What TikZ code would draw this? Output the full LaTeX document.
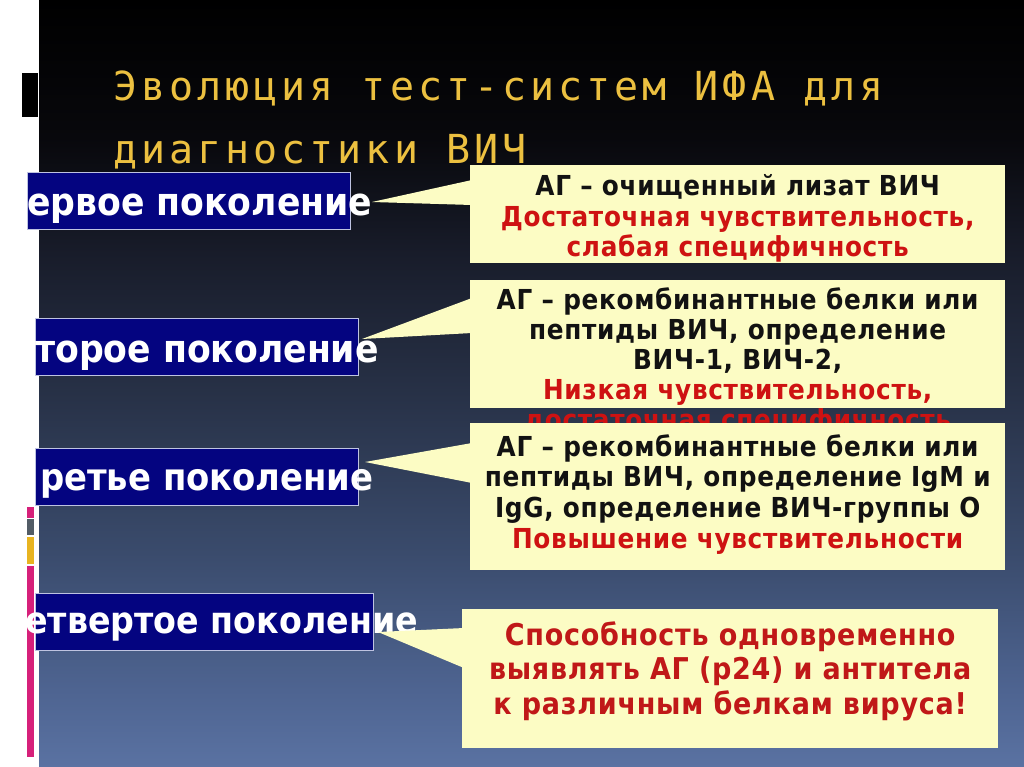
\documentclass[tikz,border=0pt]{standalone}
\usepackage{fontspec}
\setmainfont{DejaVu Sans}
\newfontfamily\titlefont[LetterSpace=10]{DejaVu Sans Mono}
\newfontfamily\condb{DejaVu Sans Condensed Bold}
\newfontfamily\condbs[LetterSpace=2.5]{DejaVu Sans Condensed Bold}
\usetikzlibrary{calc}
\definecolor{titlegold}{RGB}{236,192,64}
\definecolor{navy}{RGB}{4,4,128}
\definecolor{labline}{RGB}{190,195,225}
\definecolor{callfill}{RGB}{252,252,196}
\definecolor{redtxt}{RGB}{206,18,18}
\definecolor{redtxtd}{RGB}{192,24,24}
\definecolor{blacktxt}{RGB}{18,18,18}
\definecolor{magbar}{RGB}{214,32,122}
\definecolor{graybar}{RGB}{82,92,102}
\definecolor{goldbar}{RGB}{232,180,32}
\definecolor{bg0}{RGB}{90,114,162}
\definecolor{bg1}{RGB}{78,100,145}
\definecolor{bg2}{RGB}{58,75,108}
\definecolor{bg3}{RGB}{40,50,72}
\definecolor{bg4}{RGB}{24,28,42}
\definecolor{bg5}{RGB}{8,8,12}
\pgfdeclareverticalshading{slidebg}{100bp}{color(0bp)=(bg0); color(25bp)=(bg0); color(30bp)=(bg1); color(39bp)=(bg2); color(49bp)=(bg3); color(58.5bp)=(bg4); color(66bp)=(bg5); color(75bp)=(black); color(100bp)=(black)}
\tikzset{
  labbox/.style={draw=labline, line width=1pt, fill=navy, inner sep=0pt, anchor=north west},
  labtxt/.style={anchor=base west, inner sep=0pt, text=white, font=\condb\fontsize{38.5}{38}\selectfont},
  callbox/.style={fill=callfill, inner sep=0pt, anchor=north west},
  ctxt/.style={anchor=base, inner sep=0pt, text=blacktxt, font=\condbs\fontsize{27.5}{30}\selectfont},
  rtxt/.style={ctxt, text=redtxt},
  dtxt/.style={anchor=base, inner sep=0pt, text=redtxtd, font=\condbs\fontsize{30}{34}\selectfont},
  titletxt/.style={anchor=base west, inner sep=0pt, text=titlegold, font=\titlefont\fontsize{40}{40}\selectfont}
}
\begin{document}
\begin{tikzpicture}[x=1pt,y=-1pt]
\useasboundingbox (0,0) rectangle (1024,767);
% background
\fill[white] (0,0) rectangle (1024,767);
\shade[shading=slidebg] (39,0) rectangle (1024,767);
\fill[black] (22,73) rectangle (38,117);
\fill[magbar] (27,507) rectangle (34,518);
\fill[graybar] (27,519) rectangle (34,535);
\fill[goldbar] (27,537) rectangle (34,564);
\fill[magbar] (27,566) rectangle (34,757);
% title
\node[titletxt] (t1) at (113,101) {Эволюция тест-систем ИФА для};
\node[titletxt] (t2) at (113,164) {диагностики ВИЧ};
% generation labels
\node[labbox, minimum width=323pt, minimum height=57pt] (b1) at (27,172) {};
\node[labtxt] (l1) at (27,215) {ервое поколение};
\node[labbox, minimum width=323pt, minimum height=57pt] (b2) at (35,318) {};
\node[labtxt] (l2) at (35,362) {торое поколение};
\node[labbox, minimum width=323pt, minimum height=57pt] (b3) at (35,448) {};
\node[labtxt, font=\condb\fontsize{37.6}{38}\selectfont] (l3) at (40,490) {ретье поколение};
\node[labbox, minimum width=338pt, minimum height=57pt] (b4) at (35,593) {};
\node[labtxt, font=\condb\fontsize{37}{38}\selectfont] (l4) at (25,633) {етвертое поколение};
% callout 1
\node[callbox, minimum width=535pt, minimum height=98pt] (c1) at (470,165) {};
\coordinate (p1) at (372,202);
\fill[callfill] (p1) -- ([xshift=2pt,yshift=-15pt]c1.north west) -- ([xshift=2pt,yshift=-40pt]c1.north west) -- cycle;
\node[ctxt] (a1) at ([yshift=-31pt]c1.north) {АГ – очищенный лизат ВИЧ};
\node[rtxt] (a2) at ([yshift=-61pt]c1.north) {Достаточная чувствительность,};
\node[rtxt] (a3) at ([yshift=-91pt]c1.north) {слабая специфичность};
% callout 2
\node[callbox, minimum width=535pt, minimum height=128pt] (c2) at (470,280) {};
\coordinate (p2) at (362,339);
\fill[callfill] (p2) -- ([xshift=2pt,yshift=-18pt]c2.north west) -- ([xshift=2pt,yshift=-53pt]c2.north west) -- cycle;
\node[ctxt] (e1) at ([yshift=-29pt]c2.north) {АГ – рекомбинантные белки или};
\node[ctxt] (e2) at ([yshift=-59pt]c2.north) {пептиды ВИЧ, определение};
\node[ctxt] (e3) at ([yshift=-89pt]c2.north) {ВИЧ-1, ВИЧ-2,};
\node[rtxt] (e4) at ([yshift=-119pt]c2.north) {Низкая чувствительность,};
\node[rtxt] (e5) at ([yshift=-149pt]c2.north) {достаточная специфичность};
% callout 3
\node[callbox, minimum width=535pt, minimum height=147pt] (c3) at (470,423) {};
\coordinate (p3) at (365,462);
\fill[callfill] (p3) -- ([xshift=2pt,yshift=-20pt]c3.north west) -- ([xshift=2pt,yshift=-60pt]c3.north west) -- cycle;
\node[ctxt] (g1) at ([yshift=-33pt]c3.north) {АГ – рекомбинантные белки или};
\node[ctxt] (g2) at ([yshift=-63pt]c3.north) {пептиды ВИЧ, определение IgM и};
\node[ctxt] (g3) at ([yshift=-94pt]c3.north) {IgG, определение ВИЧ-группы О};
\node[rtxt] (g4) at ([yshift=-125pt]c3.north) {Повышение чувствительности};
% callout 4
\node[callbox, minimum width=536pt, minimum height=139pt] (c4) at (462,609) {};
\coordinate (p4) at (378,632);
\fill[callfill] (p4) -- ([xshift=2pt,yshift=-19pt]c4.north west) -- ([xshift=2pt,yshift=-59pt]c4.north west) -- cycle;
\node[dtxt] (h1) at ([yshift=-36pt]c4.north) {Способность одновременно};
\node[dtxt] (h2) at ([yshift=-70pt]c4.north) {выявлять АГ (р24) и антитела};
\node[dtxt] (h3) at ([yshift=-105pt]c4.north) {к различным белкам вируса!};
\end{tikzpicture}
\end{document}
